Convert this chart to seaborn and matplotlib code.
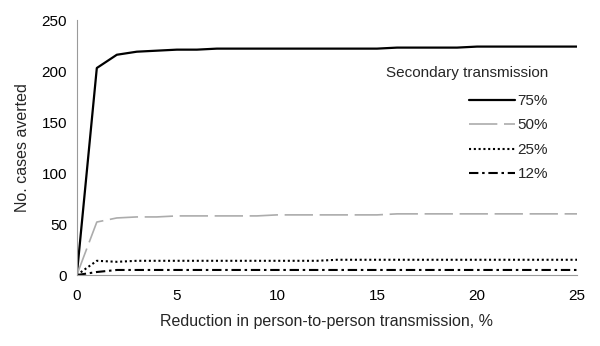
import matplotlib
matplotlib.use("Agg")
import matplotlib.pyplot as plt
import seaborn as sns
import pandas as pd

# Reduction in person-to-person transmission, %
reduction = list(range(0, 26))

# Cases averted for each level of secondary transmission
averted_75 = [0, 203, 216, 219, 220, 221, 221, 222, 222, 222, 222, 222, 222, 222,
              222, 222, 223, 223, 223, 223, 224, 224, 224, 224, 224, 224]
averted_50 = [0, 52, 56, 57, 57, 58, 58, 58, 58, 58, 59, 59, 59, 59,
              59, 59, 60, 60, 60, 60, 60, 60, 60, 60, 60, 60]
averted_25 = [0, 14, 13, 14, 14, 14, 14, 14, 14, 14, 14, 14, 14, 15,
              15, 15, 15, 15, 15, 15, 15, 15, 15, 15, 15, 15]
averted_12 = [0, 3, 5, 5, 5, 5, 5, 5, 5, 5, 5, 5, 5, 5,
              5, 5, 5, 5, 5, 5, 5, 5, 5, 5, 5, 5]

series_labels = ["75%", "50%", "25%", "12%"]
x_ticks = [0, 5, 10, 15, 20, 25]
y_ticks = [0, 50, 100, 150, 200, 250]

df = pd.DataFrame({
    "reduction": reduction * 4,
    "averted": averted_75 + averted_50 + averted_25 + averted_12,
    "Secondary transmission": sum([[lab] * len(reduction) for lab in series_labels], []),
})

sns.set_theme(style="white")
plt.rcParams["font.family"] = ["Liberation Sans", "DejaVu Sans"]

fig, ax = plt.subplots(figsize=(6.0, 3.46), dpi=100)
fig.subplots_adjust(left=0.128, right=0.962, top=0.942, bottom=0.205)

styles = {
    "75%": dict(color="black", lw=1.6, ls="-"),
    "50%": dict(color="#acacac", lw=1.2, ls=(0, (17, 4))),
    "25%": dict(color="black", lw=1.5, ls=(0, (1.0, 1.3))),
    "12%": dict(color="black", lw=1.5, ls=(0, (4.5, 1.8, 1.2, 1.8))),
}
for lab in series_labels:
    sub = df[df["Secondary transmission"] == lab]
    sns.lineplot(data=sub, x="reduction", y="averted", ax=ax, label=lab,
                 estimator=None, **styles[lab])

ax.set_xlim(0, 25)
ax.set_ylim(0, 250)
ax.set_xticks(x_ticks)
ax.set_yticks(y_ticks)
ax.tick_params(axis="both", labelsize=11, colors="black", length=4,
               width=0.8, direction="out")
ax.tick_params(axis="x", color="#9a9a9a", pad=6)
ax.tick_params(axis="y", color="#9a9a9a", length=4, pad=3)

for side in ["top", "right"]:
    ax.spines[side].set_visible(False)
for side in ["left", "bottom"]:
    ax.spines[side].set_color("#9a9a9a")
    ax.spines[side].set_linewidth(0.8)

ax.set_xlabel("Reduction in person-to-person transmission, %", fontsize=11.5, labelpad=8)
ax.set_ylabel("No. cases averted", fontsize=11.5, labelpad=8)

leg = ax.legend(title="Secondary transmission", loc="upper right",
                bbox_to_anchor=(0.96, 0.855), frameon=False, fontsize=11,
                title_fontsize=11, handlelength=3.0, handletextpad=0.15,
                labelspacing=0.68, alignment="right", borderaxespad=0.2)
leg._legend_box.sep = 10

fig.savefig("out.png", dpi=100)
